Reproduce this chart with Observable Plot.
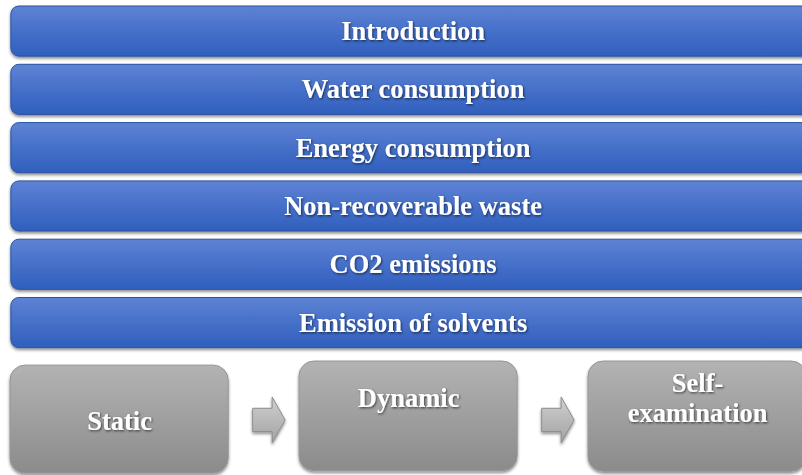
<!DOCTYPE html>
<html><head><meta charset="utf-8">
<script src="https://cdn.jsdelivr.net/npm/d3@7"></script>
<script src="https://cdn.jsdelivr.net/npm/@observablehq/plot@0.6"></script>
<style>
html,body{margin:0;padding:0;background:#fff;overflow:hidden;}
#chart svg{display:block;overflow:visible;}
</style></head><body><div id="chart"></div>
<script>
// Content
const steps = ["Introduction", "Water consumption", "Energy consumption", "Non-recoverable waste", "CO2 emissions", "Emission of solvents"];
const stages = ["Static", "Dynamic", "Self-\nexamination"];

// Layout (scale units): rows along y, stage slots along x
const rowH = 0.86, boxW = 0.755;
const stageTops = [6.16, 6.09, 6.09];
const stageBottoms = [8.01, 7.97, 7.98];
const stageTextY = [7.1, 6.71, 6.7];
const stepRows = steps.map((label, i) => ({label, y1: i, y2: i + rowH, ym: i + 0.43}));
const stageBoxes = stages.map((label, i) => ({label, x1: i, x2: i + boxW, xm: i + boxW / 2,
  y1: stageTops[i], y2: stageBottoms[i], ym: stageTextY[i]}));
const arrows = [];
for (let i = 0; i < stages.length - 1; i++) {
  const a = i + 0.841, h = i + 0.907, t = i + 0.952, c = 7.1, sh = 0.2, hh = 0.394;
  arrows.push({k: i, x: a, y1: c - sh, y2: c + sh}, {k: i, x: h, y1: c - sh, y2: c + sh},
              {k: i, x: h, y1: c - hh, y2: c + hh}, {k: i, x: t, y1: c, y2: c});
}

const font = "'Liberation Serif','Times New Roman',serif";
const svg = Plot.plot({
  width: 802, height: 475,
  x: {domain: [0, 3], range: [10, 877], axis: null},
  y: {domain: [0, 8], range: [6, 472.4], axis: null},
  marks: [
    Plot.rect(stepRows, {x1: 0.003, x2: 2.8, y1: "y1", y2: "y2", rx: 8, fill: "url(#gBlue)", stroke: "#2b52a0", strokeWidth: 1}),
    Plot.rect(stageBoxes, {x1: "x1", x2: "x2", y1: "y1", y2: "y2", rx: 15, fill: "url(#gGray)", stroke: "#959595", strokeWidth: 1}),
    Plot.areaY(arrows, {x: "x", y1: "y1", y2: "y2", z: "k", fill: "url(#gArrow)", stroke: "#8c8c8c", strokeWidth: 1, curve: "linear"}),
    Plot.text(stepRows, {x: 1.393, y: "ym", text: "label", fill: "white", fontFamily: font, fontWeight: "bold", fontSize: 26.5}),
    Plot.text(stageBoxes, {x: "xm", y: "ym", text: "label", fill: "white", fontFamily: font, fontWeight: "bold", fontSize: 26.5, lineHeight: 1.14})
  ]
});

const s = d3.select(svg);
const defs = s.insert("defs", ":first-child");
function grad(id, stops) {
  const g = defs.append("linearGradient").attr("id", id).attr("x1", 0).attr("y1", 0).attr("x2", 0).attr("y2", 1);
  stops.forEach(([o, c]) => g.append("stop").attr("offset", o).attr("stop-color", c));
}
grad("gBlue", [[0, "#5e83d4"], [0.5, "#4670c9"], [1, "#305fbd"]]);
grad("gGray", [[0, "#b3b3b3"], [1, "#8b8b8b"]]);
grad("gArrow", [[0, "#d0d0d0"], [1, "#a2a2a2"]]);
const f1 = defs.append("filter").attr("id", "shBox").attr("x", "-5%").attr("y", "-20%").attr("width", "110%").attr("height", "150%");
f1.append("feDropShadow").attr("dx", 0).attr("dy", 2).attr("stdDeviation", 1.6).attr("flood-color", "#000").attr("flood-opacity", 0.45);
const f2 = defs.append("filter").attr("id", "shText").attr("x", "-10%").attr("y", "-30%").attr("width", "120%").attr("height", "160%");
f2.append("feDropShadow").attr("dx", 1).attr("dy", 1.2).attr("stdDeviation", 0.8).attr("flood-color", "#000").attr("flood-opacity", 0.6);

const groups = svg.querySelectorAll(":scope > g");
groups.forEach((g, i) => {
  if (i <= 2) g.setAttribute("filter", "url(#shBox)");
  else g.setAttribute("filter", "url(#shText)");
});
document.getElementById("chart").appendChild(svg);
</script></body></html>
